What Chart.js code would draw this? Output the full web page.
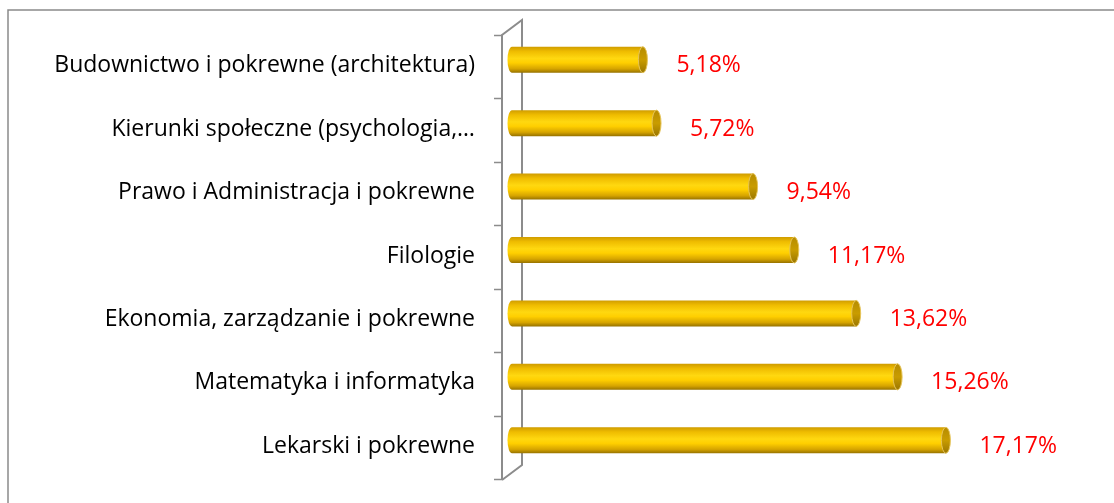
<!DOCTYPE html>
<html>
<head>
<meta charset="utf-8">
<script src="https://cdn.jsdelivr.net/npm/chart.js@4/dist/chart.umd.min.js"></script>
<style>
  html, body { margin: 0; padding: 0; background: #fff; }
  #wrap { width: 1114px; height: 503px; }
</style>
</head>
<body>
<div id="wrap"><canvas id="kierunki" width="1114" height="503"></canvas></div>
<script>
const categories = [
  'Budownictwo i pokrewne (architektura)',
  'Kierunki społeczne (psychologia,…',
  'Prawo i Administracja i pokrewne',
  'Filologie',
  'Ekonomia, zarządzanie i pokrewne',
  'Matematyka i informatyka',
  'Lekarski i pokrewne'
]
const shares = [5.18, 5.72, 9.54, 11.17, 13.62, 15.26, 17.17]

const FONT = '"Open Sans"'
const fmt = v => v.toFixed(2).replace('.', ',') + '%'

// frame, 3d wall, cylinders and value labels
const cylinders = {
  id: 'cylinders',
  beforeDraw (chart) {
    const { ctx, chartArea } = chart
    ctx.save()
    ctx.strokeStyle = '#8a8a8a'
    ctx.lineWidth = 1.5
    ctx.beginPath()
    ctx.moveTo(8, 503)
    ctx.lineTo(8, 10)
    ctx.lineTo(1114, 10)
    ctx.stroke()

    // wall
    const fx = chartArea.left - 10
    const bx = fx + 20
    const top = chartArea.top
    const bot = chartArea.bottom
    ctx.strokeStyle = '#8c8c8c'
    ctx.lineWidth = 2
    ctx.beginPath()
    ctx.moveTo(fx, bot + 8)
    ctx.lineTo(fx, top + 7)
    ctx.lineTo(bx, top - 8)
    ctx.lineTo(bx, bot - 7)
    ctx.lineTo(fx, bot + 8)
    ctx.stroke()
    const n = categories.length
    const step = (bot - top) / n
    ctx.lineWidth = 1.5
    ctx.beginPath()
    for (let i = 0; i <= n; i++) {
      const y = Math.round(top + 7 + i * step) + 0.5
      ctx.moveTo(fx - 8, y)
      ctx.lineTo(fx, y)
    }
    ctx.stroke()
    ctx.restore()
  },
  afterDatasetsDraw (chart) {
    const { ctx } = chart
    const meta = chart.getDatasetMeta(0)
    const rx = 4.5
    ctx.save()
    meta.data.forEach((el, i) => {
      const x0 = el.base
      const x1 = el.x
      const yc = el.y
      const h = el.height
      const yt = yc - h / 2
      const yb = yc + h / 2

      const g = ctx.createLinearGradient(0, yt, 0, yb)
      g.addColorStop(0, '#cf9c00')
      g.addColorStop(0.18, '#efbc00')
      g.addColorStop(0.45, '#ffd810')
      g.addColorStop(0.62, '#ffcf00')
      g.addColorStop(0.85, '#d6a400')
      g.addColorStop(1, '#967200')
      ctx.fillStyle = g
      ctx.beginPath()
      ctx.moveTo(x1, yt)
      ctx.lineTo(x0, yt)
      ctx.ellipse(x0, yc, rx, h / 2, 0, -Math.PI / 2, Math.PI / 2, true)
      ctx.lineTo(x1, yb)
      ctx.closePath()
      ctx.fill()

      const gc = ctx.createLinearGradient(0, yt, 0, yb)
      gc.addColorStop(0, '#b68c00')
      gc.addColorStop(0.5, '#c99c00')
      gc.addColorStop(1, '#9a7600')
      ctx.fillStyle = gc
      ctx.strokeStyle = '#e6c45a'
      ctx.lineWidth = 1
      ctx.beginPath()
      ctx.ellipse(x1, yc, rx, h / 2, 0, 0, Math.PI * 2)
      ctx.fill()
      ctx.stroke()

      ctx.fillStyle = '#ff0000'
      ctx.font = '23px ' + FONT
      ctx.textAlign = 'left'
      ctx.textBaseline = 'middle'
      ctx.fillText(fmt(shares[i]), x1 + rx + 29, yc + 6)
    })
    ctx.restore()
  }
}

new Chart(document.getElementById('kierunki'), {
  type: 'bar',
  data: {
    labels: categories,
    datasets: [
      {
        data: shares,
        backgroundColor: 'rgba(0,0,0,0)',
        borderWidth: 0,
        barThickness: 26
      }
    ]
  },
  options: {
    indexAxis: 'y',
    responsive: false,
    animation: false,
    layout: { padding: { top: 28, bottom: 31, right: 6, left: 0 } },
    plugins: {
      legend: { display: false },
      tooltip: { enabled: false }
    },
    scales: {
      x: {
        display: false,
        min: 0,
        max: 23.585
      },
      y: {
        grid: { display: false, drawTicks: false },
        border: { display: false },
        ticks: {
          color: '#000',
          font: { family: FONT, size: 23 },
          padding: 37,
          labelOffset: 6
        },
        afterFit (scale) {
          scale.width = 512
          scale.paddingTop = 0
          scale.paddingBottom = 0
        }
      }
    }
  },
  plugins: [cylinders]
})
</script>
</body>
</html>
